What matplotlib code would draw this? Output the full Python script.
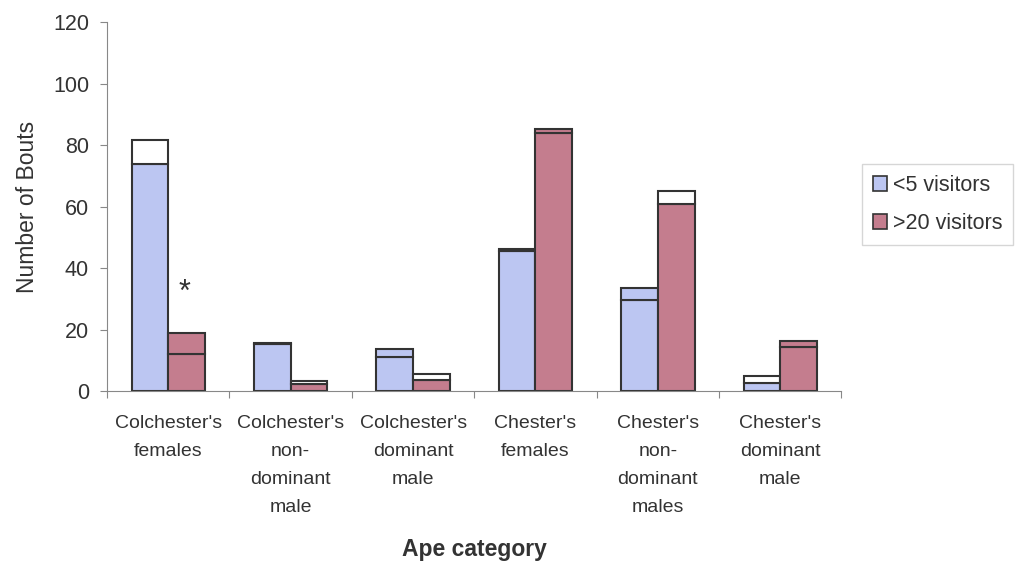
import matplotlib.pyplot as plt
import numpy as np

plt.rcParams['font.family'] = ['Liberation Sans', 'DejaVu Sans']

categories = ["Colchester's\nfemales", "Colchester's\nnon-\ndominant\nmale",
              "Colchester's\ndominant\nmale", "Chester's\nfemales",
              "Chester's\nnon-\ndominant\nmales", "Chester's\ndominant\nmale"]

# lower segment and full bar height for each visitor group
low_base = [74, 15.2, 11.2, 45.5, 29.6, 2.7]
low_total = [81.5, 15.8, 13.7, 46.2, 33.4, 4.9]
high_base = [12, 2.3, 3.6, 84, 61, 14.4]
high_total = [19, 3.4, 5.5, 85.1, 65.1, 16.4]

# whether the upper segment keeps the series colour
low_top_filled = [False, True, True, True, True, False]
high_top_filled = [True, False, False, True, False, True]

blue = '#bcc6f2'
red = '#c47d8e'
edge = '#333333'
txt = '#333333'

fig = plt.figure(figsize=(10.2, 5.66), dpi=100)
ax = fig.add_axes([0.105, 0.309, 0.72, 0.652])

x = np.arange(len(categories))
w = 0.3

for xs, base, total, filled, col in [
        (x - w / 2, low_base, low_total, low_top_filled, blue),
        (x + w / 2, high_base, high_total, high_top_filled, red)]:
    ax.bar(xs, base, w, color=col, edgecolor=edge, linewidth=1.5)
    top = np.array(total) - np.array(base)
    faces = [col if f else 'white' for f in filled]
    ax.bar(xs, top, w, bottom=base, color=faces, edgecolor=edge, linewidth=1.5)

ax.text(x[0] + w / 2 - 0.02, 32, '*', ha='center', va='center', fontsize=22, color=txt)

ax.set_xlim(-0.5, len(categories) - 0.5)
ax.set_ylim(0, 120)
ax.set_yticks(range(0, 121, 20))
ax.set_xticks(np.arange(-0.5, len(categories), 1.0))
ax.set_xticklabels([])
ax.set_xticks(x, minor=True)
ax.set_xticklabels(categories, minor=True, fontsize=14, color=txt, linespacing=1.85,
                   va='top')
ax.tick_params(axis='x', which='minor', length=0, pad=17)
ax.tick_params(axis='x', which='major', length=5, color='#888888', direction='out')
ax.tick_params(axis='y', length=5, color='#888888', labelsize=15.5, labelcolor=txt, pad=8)

for s in ['top', 'right']:
    ax.spines[s].set_visible(False)
for s in ['left', 'bottom']:
    ax.spines[s].set_color('#888888')

ax.set_ylabel('Number of Bouts', fontsize=16.5, color=txt, labelpad=10)
ax.set_xlabel('Ape category', fontsize=16.5, color=txt, fontweight='semibold', labelpad=16)

handles = [plt.Rectangle((0, 0), 1, 1, facecolor=blue, edgecolor=edge, linewidth=1.2),
           plt.Rectangle((0, 0), 1, 1, facecolor=red, edgecolor=edge, linewidth=1.2)]
leg = fig.legend(handles, ['<5 visitors', '>20 visitors'], loc='upper left',
                 bbox_to_anchor=(0.845, 0.71), fontsize=15.5, frameon=True, fancybox=False,
                 handlelength=0.65, handleheight=0.65, handletextpad=0.3, labelspacing=0.8,
                 borderpad=0.5, borderaxespad=0)
leg.get_frame().set_edgecolor('#cccccc')
leg.get_frame().set_linewidth(1)
for t in leg.get_texts():
    t.set_color(txt)

fig.savefig('out.png', dpi=100)
